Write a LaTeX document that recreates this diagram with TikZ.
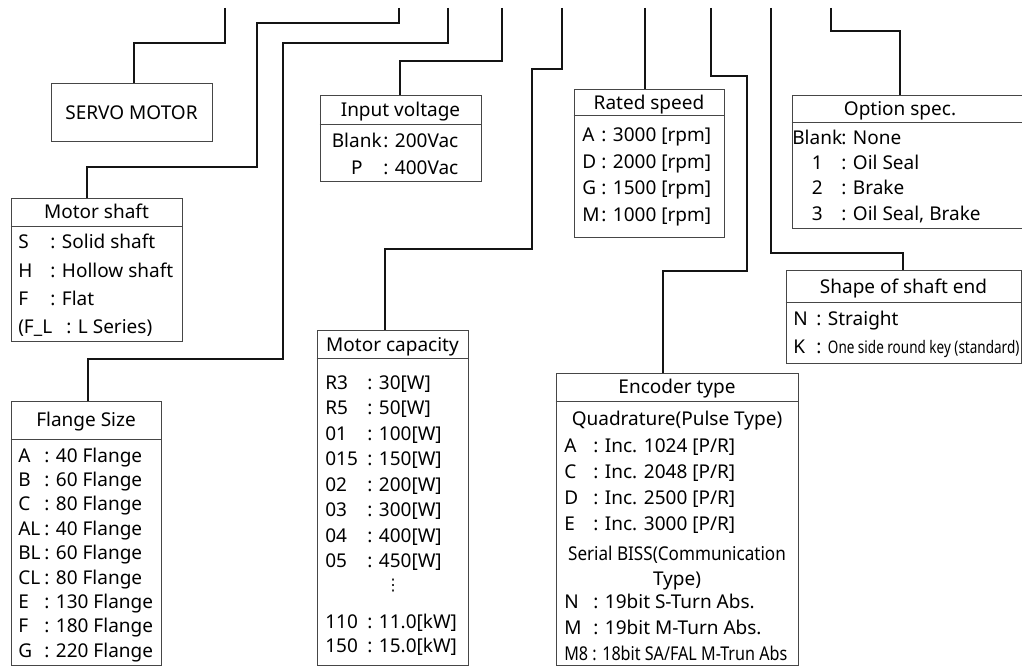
\documentclass[tikz,border=0pt]{standalone}
\usepackage{fontspec}
\setmainfont{Noto Sans}
\newfontfamily\dotsfont{DejaVu Sans}
\usepackage{tikz}
\usetikzlibrary{fit}
\definecolor{specGray}{RGB}{70, 70, 70}
\definecolor{linkBlack}{RGB}{20, 20, 20}
\tikzset{
  specbox/.style={draw=specGray, line width=0.75pt, inner sep=0pt, fit={#1}},
  headrule/.style={draw=specGray, line width=0.75pt},
  specrow/.style={anchor=base west, inner sep=0pt, font=\fontsize{14.25}{16}\selectfont},
  spechead/.style={anchor=base, inner sep=0pt, font=\fontsize{14.25}{16}\selectfont},
  link/.style={linkBlack, line width=1.1pt},
}

\begin{document}
\begin{tikzpicture}[x=0.75pt, y=-0.75pt]
\useasboundingbox (0,0) rectangle (1022,667);

% Code positions along the top
\foreach \n/\x in {1/225, 2/399, 3/448, 4/502, 5/562, 6/645, 7/711, 8/771, 9/831}
  \coordinate (top\n) at (\x,8);

% Servo motor
\node[specbox={(51,84) (212,142)}] (servo) {};
\node[spechead] (servoT) at (servo.center |- 0,119) {SERVO MOTOR};

% Motor shaft
\node[specbox={(11,198) (182,341)}] (shaft) {};
\draw[headrule] (shaft.west |- 0,226) -- (shaft.east |- 0,226);
\node[spechead] (shaftT) at (shaft.center |- 0,218) {Motor shaft};
\foreach \y/\k/\v in {248/S/Solid shaft, 277/H/Hollow shaft, 305/F/Flat}
  \node[specrow] (shaft\k) at (18,\y) {\makebox[24pt][l]{\k}: \v};
\node[specrow] (shaftFL) at (18,333) {\makebox[36pt][l]{(F\_L}: L Series)};

% Flange size
\node[specbox={(11,401) (161,665)}] (flange) {};
\draw[headrule] (flange.west |- 0,439) -- (flange.east |- 0,439);
\node[spechead] (flangeT) at (flange.center |- 0,426) {Flange Size};
\foreach \k/\v [count=\i from 0] in {A/40, B/60, C/80, AL/40, BL/60, CL/80, E/130, F/180, G/220}
  \node[specrow] (flange\k) at (18,{462+24.4*\i}) {\makebox[19.5pt][l]{\k}: \v\ Flange};

% Input voltage
\node[specbox={(320,96) (481,181)}] (volt) {};
\draw[headrule] (volt.west |- 0,125) -- (volt.east |- 0,125);
\node[spechead] (voltT) at (volt.center |- 0,117) {Input voltage};
\foreach \y/\k/\v in {147/Blank/200Vac, 175/P/400Vac}
  \node[specrow] (volt\k) at (330,\y) {\makebox[39.75pt][c]{\k}: \v};

% Motor capacity
\node[specbox={(317,330) (468,665)}] (cap) {};
\draw[headrule] (cap.west |- 0,358) -- (cap.east |- 0,358);
\node[spechead] (capT) at (cap.center |- 0,351) {Motor capacity};
\foreach \k/\v [count=\i from 0] in {R3/30, R5/50, 01/100, 015/150, 02/200, 03/300, 04/400, 05/450}
  \node[specrow] (cap\k) at (325,{389+25.5*\i}) {\makebox[31.5pt][l]{\k}: \v[W]};
\node[inner sep=0pt, font=\dotsfont\fontsize{12}{12}\selectfont] (capdots) at (393,586) {⋮};
\foreach \y/\k/\v in {628/110/11.0, 652/150/15.0}
  \node[specrow] (cap\k) at (325,\y) {\makebox[31.5pt][l]{\k}: \v[kW]};

% Rated speed
\node[specbox={(574,90) (724,237)}] (speed) {};
\draw[headrule] (speed.west |- 0,116) -- (speed.east |- 0,116);
\node[spechead] (speedT) at (speed.center |- 0,110) {Rated speed};
\foreach \k/\v [count=\i from 0] in {A/3000, D/2000, G/1500, M/1000}
  \node[specrow] (speed\k) at (582,{142+26.4*\i}) {\makebox[14.25pt][l]{\k}: \v\ [rpm]};

% Encoder type
\node[specbox={(556,373) (798,665)}] (enc) {};
\draw[headrule] (enc.west |- 0,401) -- (enc.east |- 0,401);
\node[spechead] (encT) at (enc.center |- 0,393) {Encoder type};
\node[spechead] (encQ) at (enc.center |- 0,425) {Quadrature(Pulse Type)};
\foreach \k/\v [count=\i from 0] in {A/1024, C/2048, D/2500, E/3000}
  \node[specrow] (enc\k) at (564,{452+26*\i}) {\makebox[21.75pt][l]{\k}: Inc. \v\ [P/R]};
\node[spechead] (encS) at (enc.center |- 0,560) {\scalebox{0.9}[1]{Serial BISS(Communication}};
\node[spechead] (encS2) at (enc.center |- 0,585) {Type)};
\foreach \y/\k/\v in {608/N/S, 634/M/M}
  \node[specrow] (enc\k) at (564,\y) {\makebox[21.75pt][l]{\k}: 19bit \v-Turn Abs.};
\node[specrow] (encM8) at (564,660) {\scalebox{0.85}[1]{M8 : 18bit SA/FAL M-Trun Abs}};

% Shape of shaft end
\node[specbox={(786,270) (1021,363)}] (shape) {};
\draw[headrule] (shape.west |- 0,302) -- (shape.east |- 0,302);
\node[spechead] (shapeT) at (shape.center |- 0,293) {Shape of shaft end};
\node[specrow] (shapeN) at (793,325) {\makebox[17.25pt][l]{N}: Straight};
\node[specrow] (shapeK) at (793,353) {\makebox[17.25pt][l]{K}: \scalebox{0.78}[1]{\fontsize{13}{14}\selectfont One side round key (standard)}};

% Option spec
\node[specbox={(792,96) (1032,228)}] (option) {};
\draw[headrule] (option.west |- 0,123) -- (option.east |- 0,123);
\node[spechead] (optionT) at (900,116) {Option spec.};
\foreach \k/\v [count=\i from 0] in {Blank/None, 1/Oil Seal, 2/Brake, 3/{Oil Seal, Brake}}
  \node[specrow] (option\i) at (793,{145+25*\i}) {\makebox[36pt][c]{\k}: \v};

% Connectors
\draw[link] (top1) |- (134,43) -- (servo.north -| 134,0);
\draw[link] (top2) |- (257,23) |- (87,167) -- (shaft.north -| 87,0);
\draw[link] (top3) |- (283,43) |- (88,359) -- (flange.north -| 88,0);
\draw[link] (top4) |- (400,61) -- (volt.north -| 400,0);
\draw[link] (top5) |- (532,69) |- (385,249) -- (cap.north -| 385,0);
\draw[link] (top6) -- (speed.north -| 645,0);
\draw[link] (top7) |- (747,76) |- (663,271) -- (enc.north -| 663,0);
\draw[link] (top8) |- (903,253) -- (shape.north -| 903,0);
\draw[link] (top9) |- (900,31) -- (option.north -| 900,0);
\end{tikzpicture}
\end{document}
